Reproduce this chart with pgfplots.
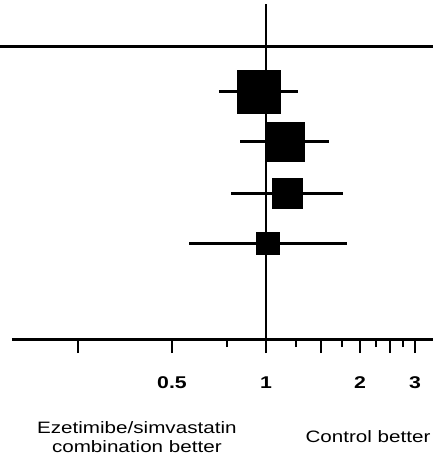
\documentclass[border=0pt]{standalone}
\usepackage{fontspec}
\setmainfont{Liberation Sans}
\usepackage{pgfplots}
\pgfplotsset{compat=1.18}
\usetikzlibrary{calc}
\newcommand\sx[1]{\scalebox{1.25}[1]{#1}}

\begin{document}
\begin{tikzpicture}
\begin{axis}[
    scale only axis,
    width=421pt, height=335pt,
    xmode=log,
    xmin=0.1537, xmax=3.427,
    ymin=0, ymax=335,
    axis x line=bottom, axis y line=none,
    x axis line style={-, line width=3pt},
    xtick={0.25,0.5,1,1.5,2,2.5,3},
    xticklabels={,\sx{0.5},\sx{1},,\sx{2},,\sx{3}},
    minor xtick={0.75,1.25,1.75,2.25,2.75},
    tick align=outside,
    major tick length=14pt, minor tick length=8pt,
    every tick/.style={black, line width=2.5pt},
    xticklabel style={font=\bfseries\fontsize{17}{17}\selectfont, yshift=-20pt},
    clip=false,
]
% reference lines
\addplot[black, line width=2.8pt] coordinates {(1,0) (1,335)};
\addplot[black, line width=3pt] coordinates {(0.1406,292) (3.427,292)};

% confidence intervals
\addplot[black, line width=3pt] coordinates {(0.707,247.3) (1.269,247.3)};
\addplot[black, line width=3pt] coordinates {(0.826,197.3) (1.595,197.3)};
\addplot[black, line width=3pt] coordinates {(0.773,145.7) (1.768,145.7)};
\addplot[black, line width=3pt] coordinates {(0.568,95.7) (1.813,95.7)};

% point estimates (box size ~ weight)
\addplot[only marks, mark=square*, mark size=21.8pt, mark options={draw=none, fill=black}] coordinates {(0.948,247.3)};
\addplot[only marks, mark=square*, mark size=19.5pt, mark options={draw=none, fill=black}] coordinates {(1.148,197.3)};
\addplot[only marks, mark=square*, mark size=15.2pt, mark options={draw=none, fill=black}] coordinates {(1.167,145.7)};
\addplot[only marks, mark=square*, mark size=11.3pt, mark options={draw=none, fill=black}] coordinates {(1.015,95.7)};

\node[align=center, font=\fontsize{16.5}{19}\selectfont] at (axis cs:0.386,-98.5)
    {\sx{Ezetimibe/simvastatin}\\\sx{combination better}};
\node[font=\fontsize{16.5}{19}\selectfont] at (axis cs:2.122,-98) {\sx{Control better}};
\end{axis}
\pgfresetboundingbox
\path ($(current axis.south west)+(-12pt,-126pt)$) rectangle ($(current axis.north east)+(0pt,4pt)$);
\end{tikzpicture}
\end{document}
